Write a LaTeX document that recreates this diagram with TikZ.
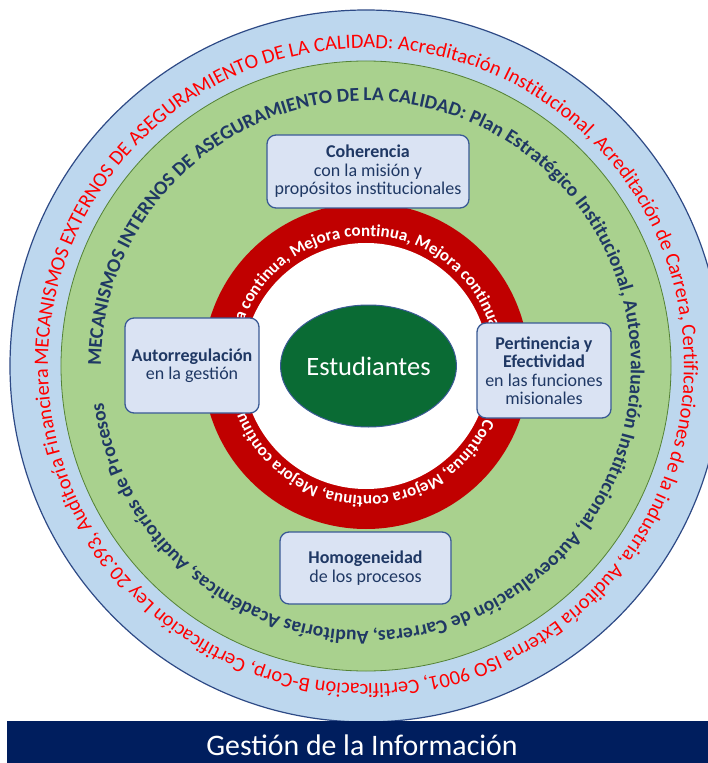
\documentclass[tikz,border=0pt]{standalone}
\usepackage{fontspec}
\setmainfont{Carlito}
\usetikzlibrary{shapes.geometric,decorations.text}
\definecolor{ringblue}{HTML}{BDD7EE}
\definecolor{ringblueline}{HTML}{2E4A86}
\definecolor{ringgreen}{HTML}{A9D18E}
\definecolor{ringgreenline}{HTML}{548235}
\definecolor{ringred}{HTML}{C00000}
\definecolor{estgreen}{HTML}{0A6B34}
\definecolor{boxfill}{HTML}{DAE3F3}
\definecolor{boxline}{HTML}{3A5A95}
\definecolor{navy}{HTML}{1F3864}
\definecolor{txtred}{HTML}{FF0000}
\definecolor{barblue}{HTML}{001E5E}
\newcommand\outerringfont{\fontsize{20.4pt}{24pt}\selectfont}
\newcommand\innerringfont{\fontsize{19.6pt}{24pt}\selectfont\bfseries}
\newcommand\mejorafont{\fontsize{17pt}{20pt}\selectfont\bfseries}
\begin{document}
\begin{tikzpicture}[x=1pt,y=1pt,
  valbox/.style={draw=boxline, line width=1.3pt, fill=boxfill, rounded corners=9pt,
    text=navy, align=center, font=\fontsize{18pt}{18.5pt}\selectfont, inner sep=0pt}]
\useasboundingbox (-366,-397) rectangle (342,366);
\begin{scope}
\clip (-366,-397) rectangle (342,366);
% rings
\path[fill=ringblue, draw=ringblueline, line width=1.2pt] (0,0) circle[radius=356pt];
\path[fill=ringgreen, draw=ringgreenline, line width=0.8pt] (0,0) circle[radius=305pt];
\path[fill=ringred] (0,0) circle[radius=163pt];
\path[fill=white] (0,0) circle[radius=123pt];
% outer ring text
\path[decorate, decoration={text along path, text align=fit to path, text color=txtred,
  text={|\outerringfont|MECANISMOS EXTERNOS DE ASEGURAMIENTO DE LA CALIDAD: Acreditación Institucional, Acreditación de Carrera, Certificaciones de la industria, Auditoría Externa ISO 9001, Certificación B-Corp, Certificación Ley 20.393, Auditoría Financiera}}]
  (180:318pt) arc[start angle=180, end angle=-179.2, radius=318pt];
% inner ring text
\path[decorate, decoration={text along path, text align=fit to path, text color=navy,
  text={|\innerringfont|MECANISMOS INTERNOS DE ASEGURAMIENTO DE LA CALIDAD: Plan Estratégico Institucional, Autoevaluación Institucional, Autoevaluación de Carreras, Auditorías Académicas, Auditorías de Procesos}}]
  (180:265pt) arc[start angle=180, end angle=-172, radius=265pt];
% red ring text
\path[decorate, decoration={text along path, text color=white,
  text={|\mejorafont|Mejora continua, Mejora continua, Mejora continua}}]
  (179:130pt) arc[start angle=179, end angle=-12, radius=130pt];
\path[decorate, decoration={text along path, text color=white,
  text={|\mejorafont|Continua, Mejora continua, Mejora continua}}]
  (-24:130pt) arc[start angle=-24, end angle=-200, radius=130pt];
% centre
\node[ellipse, fill=estgreen, draw=boxline, line width=1pt, minimum width=173pt,
  minimum height=122pt, inner sep=0pt, text=white,
  font=\fontsize{26.5pt}{29pt}\selectfont] (est) at (2.5,0) {Estudiantes};
% value boxes
\node[valbox, minimum width=202pt, minimum height=73pt] (coh) at (2,194.5)
  {\textbf{Coherencia}\\con la misión y\\propósitos institucionales};
\node[valbox, minimum width=134pt, minimum height=95pt] (aut) at (-174,0.5)
  {\textbf{Autorregulación}\\en la gestión};
\node[valbox, minimum width=134pt, minimum height=95pt] (per) at (178,-4.5)
  {\textbf{Pertinencia y}\\\textbf{Efectividad}\\en las funciones\\misionales};
\node[valbox, minimum width=171pt, minimum height=72pt] (hom) at (-0.5,-202)
  {\textbf{Homogeneidad}\\de los procesos};
% bottom bar
\path[fill=barblue] (-359,-355) rectangle (342,-397);
\node[text=white, font=\fontsize{29.8pt}{33pt}\selectfont, anchor=base, inner sep=0pt]
  (gest) at (-4,-389.5) {Gestión de la Información};
\end{scope}
\end{tikzpicture}
\end{document}
